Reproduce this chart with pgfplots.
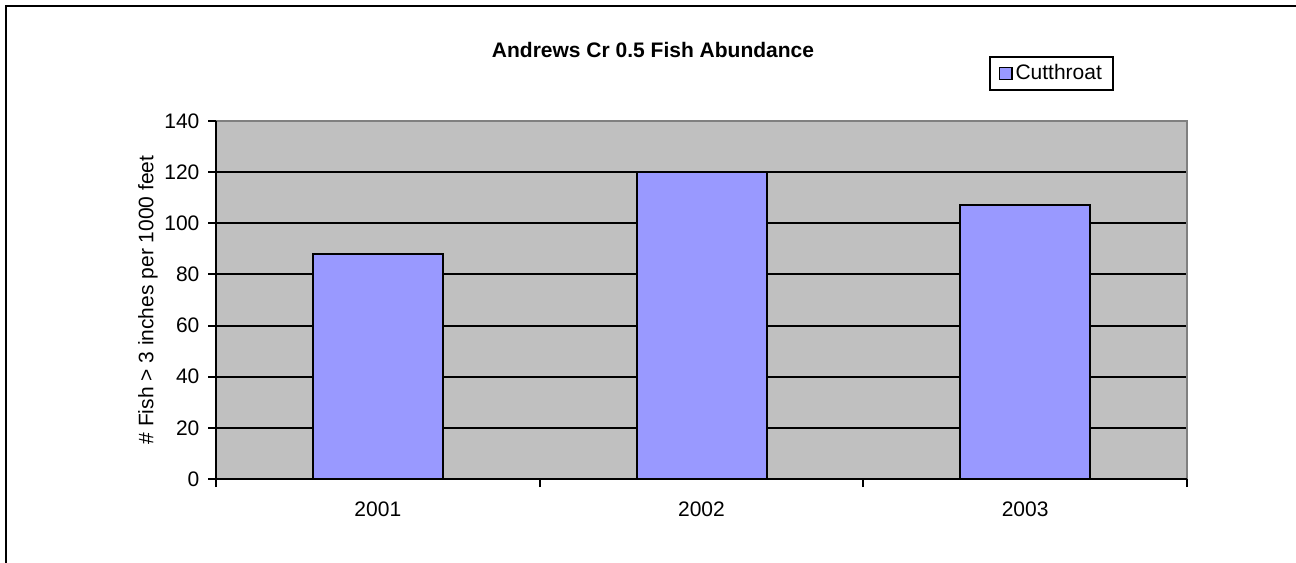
\documentclass[border=0pt]{standalone}
\usepackage{pgfplots}
\pgfplotsset{compat=1.18}
\usepackage{fontspec}
\setmainfont{Liberation Sans}
\definecolor{barfill}{HTML}{9999FF}
\definecolor{plotbg}{HTML}{C0C0C0}
\definecolor{bordergray}{HTML}{808080}
\begin{document}
\fontsize{15.75}{18}\selectfont
\begin{tikzpicture}
\useasboundingbox (0pt,0pt) rectangle (972pt,-421.5pt);
% outer frame (right and bottom edges lie outside the picture)
\draw[black, line width=1.5pt] (4.5pt,-430pt) -- (4.5pt,-4.5pt) -- (980pt,-4.5pt);
\begin{axis}[
  at={(162pt,-359.25pt)}, anchor=south west,
  scale only axis,
  width=728.25pt, height=268.5pt,
  xmin=-0.5, xmax=2.5,
  ymin=0, ymax=140,
  ytick={0,20,...,140},
  xtick={-0.5,0.5,1.5,2.5},
  xticklabels={2001,2002,2003},
  x tick label as interval,
  xtick pos=bottom, ytick pos=left,
  tick align=outside,
  major tick length=6pt,
  tick style={black, line width=1.5pt},
  ymajorgrids,
  grid style={black, line width=1.5pt},
  axis background/.style={fill=plotbg},
  axis line style={draw=none},
  ticklabel style={font=\fontsize{15.75}{18}\selectfont},
  /pgf/number format/assume math mode=true,
  xticklabel style={yshift=-6pt},
  yticklabel style={xshift=-1pt},
  ylabel={\# Fish > 3 inches per 1000 feet},
  ylabel style={font=\fontsize{15.75}{18}\selectfont},
  every axis y label/.style={at={(-51pt,134.25pt)}, rotate=90, anchor=center},
  legend style={at={(0.796,1.1816)}, anchor=north west, draw=black, line width=1.5pt,
     font=\fontsize{15.75}{18}\selectfont, inner xsep=6.5pt, inner ysep=3.5pt},
  legend image code/.code={\draw[fill=barfill, draw=black, line width=1.2pt] (0pt,-4.5pt) rectangle (9.5pt,4.5pt);},
  clip=false,
]
\addplot[ybar, bar width=97.5pt, fill=barfill, draw=black, line width=1.5pt]
  coordinates {(0,88) (1,120) (2,107)};
\addlegendentry{Cutthroat}
\draw[bordergray, line width=1.8pt] (rel axis cs:0,1) -- (rel axis cs:1,1) -- (rel axis cs:1,0);
\draw[black, line width=1.8pt] (rel axis cs:0,1) -- (rel axis cs:0,0) -- (rel axis cs:1,0);
\end{axis}
\node[anchor=base, font=\bfseries\fontsize{15.75}{18}\selectfont] at (489.75pt,-42.75pt) {Andrews Cr 0.5 Fish Abundance};
\end{tikzpicture}
\end{document}
